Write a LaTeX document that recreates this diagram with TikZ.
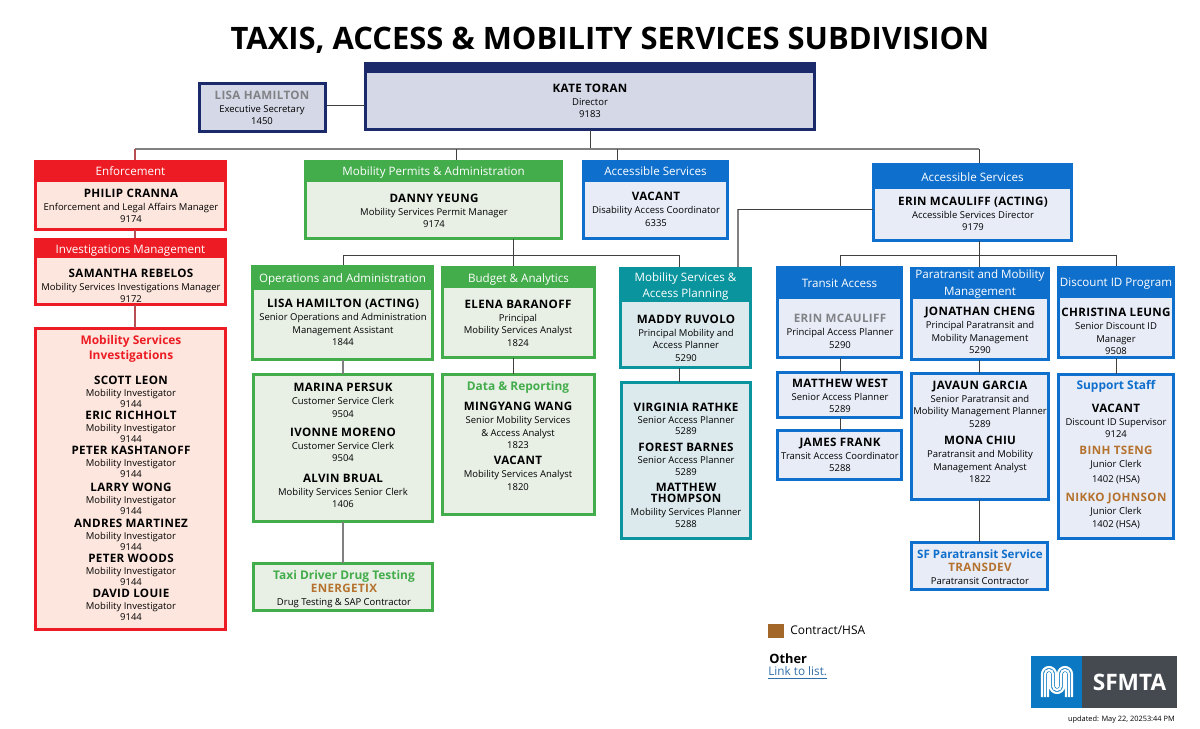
\documentclass[tikz,border=0pt]{standalone}
\usepackage{fontspec}
\setmainfont{Open Sans}
\definecolor{orgnavy}{HTML}{1B2A6B}
\definecolor{orgnavyfill}{HTML}{D5D8E6}
\definecolor{orgred}{HTML}{ED1C24}
\definecolor{orgredfill}{HTML}{FDE6DD}
\definecolor{orggreen}{HTML}{43AC4B}
\definecolor{orggreenfill}{HTML}{E8F0E6}
\definecolor{orgblue}{HTML}{0F6FCC}
\definecolor{orgbluefill}{HTML}{E8ECF7}
\definecolor{orgteal}{HTML}{0A949E}
\definecolor{orgtealfill}{HTML}{DCEAEE}
\definecolor{hsabrown}{HTML}{B5722E}
\definecolor{actinggray}{HTML}{808285}
\definecolor{linkblue}{HTML}{2F6DA8}
\definecolor{logoblue}{HTML}{0A78C2}
\definecolor{logogray}{HTML}{454A50}
\newcommand{\bodysize}{\fontsize{5.4pt}{7.1pt}\selectfont}
\newcommand{\namesize}{\fontsize{6.6pt}{7.1pt}\selectfont\bfseries\addfontfeature{LetterSpace=3}}
\newcommand{\headsize}{\fontsize{6.6pt}{9.4pt}\selectfont}
\newcommand{\pname}[2][black]{{\color{#1}\namesize #2}\\[.3pt]}
\newcommand{\orgbox}[6][orgnavy]{%
  \node[orgbase,draw=#1,fill=#1fill,minimum width={(#5-#3-2.8)*.02cm},minimum height={(#6-#4-2.8)*.02cm}] (#2) at ({(#3+#5)/2},{(#4+#6)/2}) {};}
\newcommand{\orghead}[8][orgnavy]{%
  \node[orgbase,fill=#1,line width=0pt,minimum width={(#5-#3)*.02cm},minimum height={(#6-#4)*.02cm},label={[headlabel,yshift={-#7*.02cm}]center:{#8}}] (#2) at ({(#3+#5)/2},{(#4+#6)/2}) {};}
\tikzset{
  orgbase/.style={rectangle,line width=1.6pt,inner sep=0pt,outer sep=0pt},
  headlabel/.style={text=white,font=\headsize,align=center,inner sep=0pt},
  staff/.style={align=center,inner sep=0pt,font=\bodysize},
  tightstaff/.style={staff,font=\fontsize{5.4pt}{6.5pt}\selectfont},
  boxhead/.style={align=center,inner sep=0pt,font=\fontsize{6.8pt}{8.8pt}\selectfont\bfseries},
  thinlink/.style={line width=.5pt,color=black!75},
  greylink/.style={line width=1pt,color=black!50},
  pinklink/.style={line width=1pt,color=orgred!50!gray}
}
\begin{document}
\begin{tikzpicture}[x=.02cm,y=-.02cm]
\useasboundingbox (0,0) rectangle (1200,729);
\node[inner sep=0pt,font=\fontsize{17.6pt}{20pt}\selectfont\bfseries] (title) at (610,40) {TAXIS, ACCESS \& MOBILITY SERVICES SUBDIVISION};
% top row
\orgbox{exec}{198}{82}{327}{133}
\orgbox{kate}{364}{62}{816}{131}
\orghead{katehead}{364}{62}{816}{73}{0}{}
\orgbox[orgred]{enforce}{34}{160}{227}{231}
\orghead[orgred]{enforcehead}{34}{160}{227}{182}{0}{Enforcement}
\orgbox[orgred]{invmgmt}{34}{238}{227}{306}
\orghead[orgred]{invmgmthead}{34}{238}{227}{258}{3}{Investigations Management}
\orgbox[orgred]{invest}{34}{327}{227}{631}
\orgbox[orggreen]{permit}{304}{160}{563}{240}
\orghead[orggreen]{permithead}{304}{160}{563}{182}{1}{Mobility Permits \& Administration}
\orgbox[orgblue]{access}{582}{160}{729}{240}
\orghead[orgblue]{accesshead}{582}{160}{729}{182}{0}{Accessible Services}
\orgbox[orgblue]{erin}{872}{163}{1073}{242}
\orghead[orgblue]{erinhead}{872}{163}{1073}{189}{1}{Accessible Services}
% second row
\orgbox[orggreen]{oper}{251}{265}{434}{361}
\orghead[orggreen]{operhead}{251}{265}{434}{290}{2}{Operations and Administration}
\orgbox[orggreen]{budget}{441}{266}{596}{359}
\orghead[orggreen]{budgethead}{441}{266}{596}{288}{2}{Budget \& Analytics}
\orgbox[orgteal]{plan}{619}{267}{752}{369}
\orghead[orgteal]{planhead}{619}{267}{752}{302}{2}{Mobility Services \&\\Access Planning}
\orgbox[orgblue]{transit}{776}{266}{903}{359}
\orghead[orgblue]{transithead}{776}{266}{903}{299}{1}{Transit Access}
\orgbox[orgblue]{para}{910}{267}{1050}{361}
\orghead[orgblue]{parahead}{910}{267}{1050}{299}{1}{Paratransit and Mobility\\Management}
\orgbox[orgblue]{disc}{1057}{266}{1175}{359}
\orghead[orgblue]{dischead}{1057}{266}{1175}{298}{2}{Discount ID Program}
% lower boxes
\orgbox[orggreen]{clerks}{252}{373}{434}{523}
\orgbox[orggreen]{taxi}{252}{562}{434}{612}
\orgbox[orggreen]{data}{441}{373}{596}{516}
\orgbox[orgteal]{planners}{620}{381}{752}{540}
\orgbox[orgblue]{west}{776}{371}{903}{419}
\orgbox[orgblue]{frank}{776}{429}{903}{481}
\orgbox[orgblue]{javaun}{910}{372}{1050}{501}
\orgbox[orgblue]{sfpara}{910}{541}{1049}{591}
\orgbox[orgblue]{support}{1057}{373}{1175}{540}
% connectors
\coordinate (execlink) at (327,105);
\coordinate (busleft) at (135,149);
\coordinate (busright) at (979,149);
\coordinate (tappermit) at (456,149);
\coordinate (tapaccess) at (617,149);
\coordinate (tapkate) at (590,149);
\coordinate (buspermit) at (513,255);
\coordinate (busoper) at (343,255);
\coordinate (busplan) at (679,255);
\coordinate (buserin) at (979,255);
\coordinate (bustransit) at (840,255);
\coordinate (busdisc) at (1116,255);
\coordinate (planelbow) at (738,209);
\draw[thinlink] (execlink) -- (execlink-|kate.west);
\draw[thinlink] (kate.south) -- (tapkate);
\draw[greylink] (busleft) -- (busright);
\draw[pinklink] (busleft) -- (busleft|-enforcehead.north);
\draw[thinlink] (tappermit) -- (tappermit|-permithead.north);
\draw[thinlink] (tapaccess) -- (tapaccess|-accesshead.north);
\draw[thinlink] (busright) -- (busright|-erinhead.north);
\draw[pinklink] (busleft|-enforce.south) -- (busleft|-invmgmthead.north);
\draw[pinklink] (busleft|-invmgmt.south) -- (busleft|-invest.north);
\draw[thinlink] (buspermit|-permit.south) -- (buspermit);
\draw[thinlink] (busoper) -- (busplan);
\draw[thinlink] (busoper) -- (busoper|-operhead.north);
\draw[thinlink] (buspermit) -- (buspermit|-budgethead.north);
\draw[thinlink] (busplan) -- (busplan|-planhead.north);
\draw[greylink] (planelbow) -- (planelbow|-planhead.north);
\draw[thinlink] (planelbow) -- (planelbow-|erin.west);
\draw[greylink] (busoper|-oper.south) -- (busoper|-clerks.north);
\draw[greylink] (busoper|-clerks.south) -- (busoper|-taxi.north);
\draw[thinlink] (buspermit|-budget.south) -- (buspermit|-data.north);
\draw[thinlink] (busplan|-plan.south) -- (busplan|-planners.north);
\draw[thinlink] (buserin|-erin.south) -- (buserin);
\draw[thinlink] (bustransit) -- (busdisc);
\draw[thinlink] (bustransit) -- (bustransit|-transithead.north);
\draw[thinlink] (buserin) -- (buserin|-parahead.north);
\draw[thinlink] (busdisc) -- (busdisc|-dischead.north);
\draw[thinlink] (bustransit|-transit.south) -- (bustransit|-west.north);
\draw[thinlink] (bustransit|-west.south) -- (bustransit|-frank.north);
\draw[thinlink] (buserin|-para.south) -- (buserin|-javaun.north);
\draw[thinlink] (buserin|-javaun.south) -- (buserin|-sfpara.north);
\draw[thinlink] (busdisc|-disc.south) -- (busdisc|-support.north);
% people
\node[staff] (execname) at (262,108) {\pname[actinggray]{LISA HAMILTON}Executive Secretary\\1450};
\node[staff] (katename) at (590,101) {\pname{KATE TORAN}Director\\9183};
\node[staff] (philip) at (131,206) {\pname{PHILIP CRANNA}Enforcement and Legal Affairs Manager\\9174};
\node[staff] (samantha) at (131,286) {\pname{SAMANTHA REBELOS}Mobility Services Investigations Manager\\9172};
\node[boxhead,text=orgred] (investhead) at (131,349) {Mobility Services\\Investigations};
\foreach \who/\yy [count=\i] in {SCOTT LEON/392,ERIC RICHHOLT/427,PETER KASHTANOFF/462,LARRY WONG/499,ANDRES MARTINEZ/535,PETER WOODS/570,DAVID LOUIE/605}
  \node[tightstaff] (inv\i) at (131,\yy) {\pname{\who}Mobility Investigator\\9144};
\node[staff] (danny) at (434,211) {\pname{DANNY YEUNG}Mobility Services Permit Manager\\9174};
\node[staff] (vacantdis) at (656,209.5) {\pname{VACANT}Disability Access Coordinator\\6335};
\node[staff] (erinname) at (973,214) {\pname{ERIN MCAULIFF (ACTING)}Accessible Services Director\\9179};
\node[staff] (lisa) at (343,322.5) {\pname{LISA HAMILTON (ACTING)}Senior Operations and Administration\\Management Assistant\\1844};
\node[staff] (elena) at (518,323) {\pname{ELENA BARANOFF}Principal\\Mobility Services Analyst\\1824};
\node[staff] (maddy) at (686,338) {\pname{MADDY RUVOLO}Principal Mobility and\\Access Planner\\5290};
\node[staff] (erinplan) at (840,331.5) {\pname[actinggray]{ERIN MCAULIFF}Principal Access Planner\\5290};
\node[staff] (jonathan) at (980,330.5) {\pname{JONATHAN CHENG}Principal Paratransit and\\Mobility Management\\5290};
\node[staff] (christina) at (1116,331.5) {\pname{CHRISTINA LEUNG}Senior Discount ID\\Manager\\9508};
\node[staff] (marina) at (343,400.5) {\pname{MARINA PERSUK}Customer Service Clerk\\9504};
\node[staff] (ivonne) at (343,445) {\pname{IVONNE MORENO}Customer Service Clerk\\9504};
\node[staff] (alvin) at (343,491) {\pname{ALVIN BRUAL}Mobility Services Senior Clerk\\1406};
\node[staff] (energetix) at (344,589) {{\color{orggreen}\fontsize{6.8pt}{7.1pt}\selectfont\bfseries Taxi Driver Drug Testing}\\[.3pt]\pname[hsabrown]{ENERGETIX}Drug Testing \& SAP Contractor};
\node[boxhead,text=orggreen] (datahead) at (518,387) {Data \& Reporting};
\node[staff] (mingyang) at (518,425.5) {\pname{MINGYANG WANG}Senior Mobility Services\\\& Access Analyst\\1823};
\node[staff] (vacantana) at (518,473.5) {\pname{VACANT}Mobility Services Analyst\\1820};
\node[tightstaff] (virginia) at (686,419) {\pname{VIRGINIA RATHKE}Senior Access Planner\\5289};
\node[tightstaff] (forest) at (686,459.5) {\pname{FOREST BARNES}Senior Access Planner\\5289};
\node[staff] (thompson) at (686,505.5) {{\namesize MATTHEW}\\[-1.2pt]{\namesize THOMPSON}\\[.3pt]Mobility Services Planner\\5288};
\node[staff] (matthew) at (840,396) {\pname{MATTHEW WEST}Senior Access Planner\\5289};
\node[staff] (james) at (840,455) {\pname{JAMES FRANK}Transit Access Coordinator\\5288};
\node[staff] (javaunname) at (980,404) {\pname{JAVAUN GARCIA}Senior Paratransit and\\Mobility Management Planner\\5289};
\node[staff] (mona) at (980,459.5) {\pname{MONA CHIU}Paratransit and Mobility\\Management Analyst\\1822};
\node[staff] (transdev) at (980,567.5) {{\color{orgblue}\fontsize{6.6pt}{7.1pt}\selectfont\bfseries SF Paratransit Service}\\[.3pt]\pname[hsabrown]{TRANSDEV}Paratransit Contractor};
\node[boxhead,text=orgblue] (supporthead) at (1116,386) {Support Staff};
\node[staff] (vacantsup) at (1116,421) {\pname{VACANT}Discount ID Supervisor\\9124};
\node[staff] (binh) at (1116,465) {\pname[hsabrown]{BINH TSENG}Junior Clerk\\[1.2pt]1402 (HSA)};
\node[staff] (nikko) at (1116,511) {\pname[hsabrown]{NIKKO JOHNSON}Junior Clerk\\1402 (HSA)};
% legend
\node[rectangle,fill=hsabrown!90!black,minimum width=.32cm,minimum height=.28cm,inner sep=0pt] (hsakey) at (776,631) {};
\node[anchor=west,inner sep=0pt,font=\fontsize{6.8pt}{8pt}\selectfont] (hsatext) at (790,630.5) {Contract/HSA};
\node[anchor=west,inner sep=0pt,font=\fontsize{7.3pt}{8pt}\selectfont\bfseries] (other) at (769,659) {Other};
\node[anchor=west,inner sep=0pt,text=linkblue,font=\fontsize{6.7pt}{8pt}\selectfont] (linklist) at (768,673) {\underline{Link to list.}};
% logo
\fill[logoblue] (1031,656) rectangle (1082,708);
\fill[logogray] (1082,656) rectangle (1177,708);
\node[inner sep=0pt,text=white,font=\fontsize{12.9pt}{14pt}\selectfont\bfseries] (sfmta) at (1129.5,682) {SFMTA};
\foreach \r in {7,4,1}
  \draw[white,line width=1.2pt] ({1049-\r},697) -- ({1049-\r},674) arc[start angle=180,end angle=0,radius={\r*.02cm}] -- ({1049+\r},686) arc[start angle=180,end angle=360,radius={(8-\r)*.02cm}] -- ({1065-\r},674) arc[start angle=180,end angle=0,radius={\r*.02cm}] -- ({1065+\r},697);
\node[anchor=east,inner sep=0pt,font=\fontsize{4.2pt}{5pt}\selectfont] (updated) at (1175,720) {updated: May 22, 20253:44 PM};
\end{tikzpicture}
\end{document}
